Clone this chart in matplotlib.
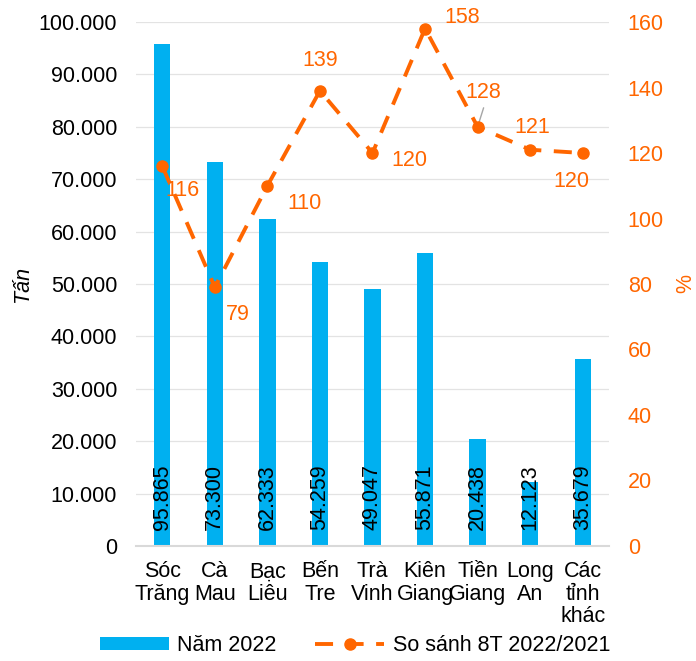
import matplotlib
matplotlib.use('Agg')
import matplotlib.pyplot as plt
from matplotlib.ticker import FuncFormatter, MultipleLocator
from matplotlib.patches import Patch
from matplotlib.lines import Line2D

plt.rcParams['font.family'] = ['Liberation Sans', 'DejaVu Sans']
plt.rcParams['lines.scale_dashes'] = False

# data
categories = ['Sóc\nTrăng', 'Cà\nMau', 'Bạc\nLiêu', 'Bến\nTre', 'Trà\nVinh',
              'Kiên\nGiang', 'Tiền\nGiang', 'Long\nAn', 'Các\ntỉnh\nkhác']
volume = [95865, 73300, 62333, 54259, 49047, 55871, 20438, 12123, 35679]
pct = [116, 79, 110, 139, 120, 158, 128, 121, 120]
# offsets (pixels) of the percent labels from their points
pct_offsets = [(20, -24), (23, -27), (37, -18), (0, 30), (37, -7),
               (37, 11), (6, 34), (2, 22), (-11, -28)]

BLUE = '#00B0F0'
ORANGE = '#FF6600'
FS = 15.5


def dot_fmt(v, pos=None):
    return f'{int(round(v)):,}'.replace(',', '.')


fig = plt.figure(figsize=(6.96, 6.61), dpi=100)
ax = fig.add_axes([0.1954, 0.174, 0.6796, 0.7927])
x = list(range(len(categories)))

ax.bar(x, volume, width=0.31, color=BLUE, zorder=2)
for xi, v in zip(x, volume):
    ax.text(xi, 3000, dot_fmt(v), rotation=90, ha='center', va='bottom',
            fontsize=FS, color='black', zorder=3)

ax.set_xlim(-0.5, len(categories) - 0.5)
ax.set_ylim(0, 100000)
ax.yaxis.set_major_locator(MultipleLocator(10000))
ax.yaxis.set_major_formatter(FuncFormatter(dot_fmt))
ax.set_xticks(x)
ax.set_xticklabels(categories, fontsize=FS, linespacing=1.1)
ax.tick_params(axis='both', length=0, labelsize=FS)
ax.tick_params(axis='y', pad=13.5)
ax.tick_params(axis='x', pad=11)
ax.grid(axis='y', color='#E3E3E3', lw=0.9)
ax.set_axisbelow(True)
for s in ['top', 'right', 'left']:
    ax.spines[s].set_visible(False)
ax.spines['bottom'].set_color('#D9D9D9')
ax.spines['bottom'].set_linewidth(1.5)
ax.set_ylabel('Tấn', fontsize=FS, style='italic', labelpad=4)

ax2 = ax.twinx()
ax2.plot(x, pct, color=ORANGE, lw=2.8, dashes=(13, 9), marker='o',
         markersize=8, zorder=4)
ax2.set_ylim(0, 160)
ax2.yaxis.set_major_locator(MultipleLocator(20))
ax2.tick_params(axis='y', length=0, labelsize=FS, labelcolor=ORANGE, pad=13.5)
for s in ['top', 'right', 'left', 'bottom']:
    ax2.spines[s].set_visible(False)
ax2.set_ylabel('%', fontsize=FS, color=ORANGE, labelpad=8)

for xi, p, off in zip(x, pct, pct_offsets):
    ax2.annotate(str(p), (xi, p), xytext=off, textcoords='offset pixels',
                 ha='center', va='center', fontsize=FS, color=ORANGE)
# leader line for the Tiền Giang label
ax2.annotate('', (x[6], pct[6]), xytext=(6, 19), textcoords='offset pixels',
             arrowprops=dict(arrowstyle='-', color='#A6A6A6', lw=1,
                             shrinkA=0, shrinkB=2))

handles = [Patch(facecolor=BLUE, edgecolor='none'),
           Line2D([], [], color=ORANGE, lw=2.8, dashes=(13, 9), marker='o',
                  markersize=8)]
fig.legend(handles, ['Năm 2022', 'So sánh 8T 2022/2021'], loc='lower center',
           bbox_to_anchor=(0.51, -0.022), ncol=2, frameon=False, fontsize=FS,
           handlelength=3.2, handleheight=0.6, columnspacing=1.8,
           handletextpad=0.4)

fig.savefig('out.png', dpi=100)
